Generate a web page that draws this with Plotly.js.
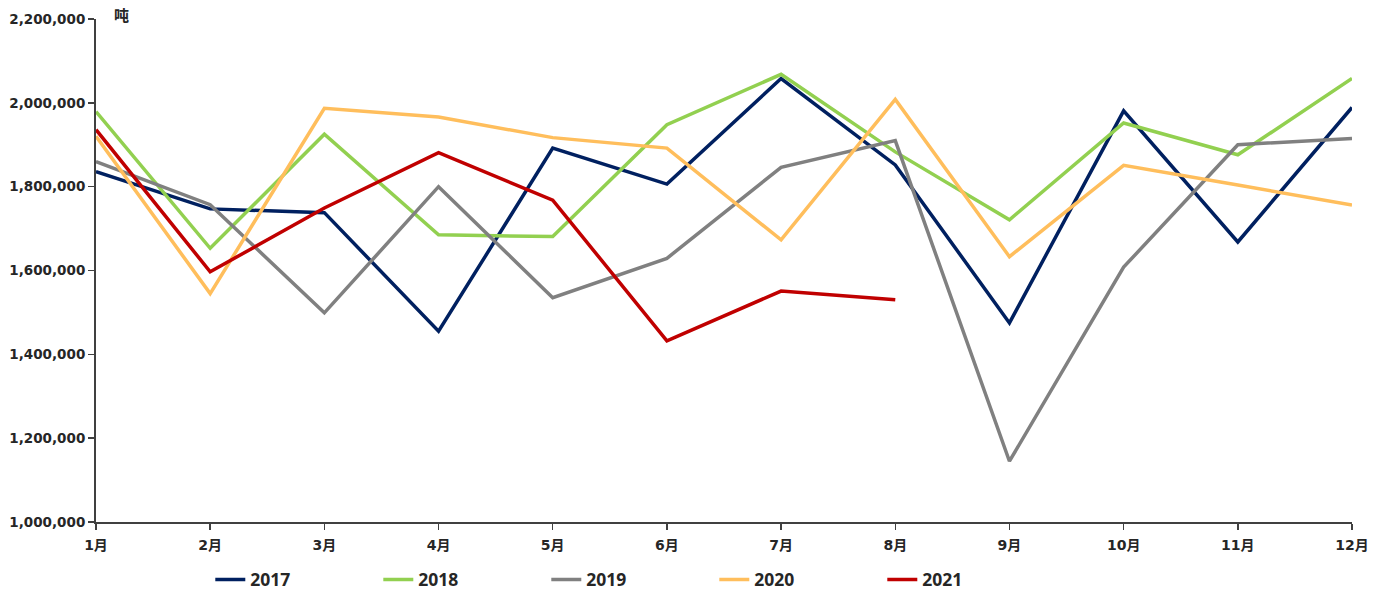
<!DOCTYPE html>
<html>
<head>
<meta charset="utf-8">
<script src="https://cdn.plot.ly/plotly-3.0.1.min.js"></script>
<style>html,body{margin:0;padding:0;background:#fff;}#chart{width:1394px;height:602px;}</style>
</head>
<body>
<div id="chart"></div>
<script>
const months = ["1月","2月","3月","4月","5月","6月","7月","8月","9月","10月","11月","12月"];
const y2017 = [1836000,1747000,1738000,1455000,1892000,1806000,2058000,1852000,1475000,1981000,1668000,1989000];
const y2018 = [1979000,1653000,1925000,1685000,1681000,1948000,2068000,1883000,1721000,1952000,1876000,2058000];
const y2019 = [1860000,1757000,1499000,1800000,1535000,1629000,1846000,1910000,1145000,1608000,1900000,1915000];
const y2020 = [1920000,1545000,1987000,1966000,1917000,1892000,1673000,2008000,1633000,1851000,1804000,1756000];
const y2021 = [1936000,1597000,1749000,1881000,1768000,1432000,1551000,1530000];
const seriesNames = ["2017","2018","2019","2020","2021"];
const seriesColors = ["#002060","#92D050","#808080","#FFBE5C","#C00000"];
const seriesData = [y2017,y2018,y2019,y2020,y2021];
const yTicks = [1000000,1200000,1400000,1600000,1800000,2000000,2200000];
const yTickText = ["1,000,000","1,200,000","1,400,000","1,600,000","1,800,000","2,000,000","2,200,000"];

const TICKFONT = "'DejaVu Sans','Noto Sans CJK SC',sans-serif";
const LEGFONT = "'Open Sans','Noto Sans CJK SC',sans-serif";
const traces = seriesData.map((d,i)=>({
  type:'scatter', mode:'lines', name:seriesNames[i],
  x: months.slice(0,d.length), y:d,
  line:{color:seriesColors[i], width:3.5},
  hoverinfo:'skip'
}));

const layout = {
  width:1394, height:602,
  margin:{l:96, r:42, t:19, b:80},
  paper_bgcolor:'#fff', plot_bgcolor:'#fff',
  showlegend:true,
  legend:{orientation:'h', x:0.091, xanchor:'left', yref:'container', y:0.067, yanchor:'top',
    font:{family:LEGFONT, size:17.5, color:'#262626', weight:'bold'}, entrywidth:123, traceorder:'normal'},
  xaxis:{type:'category', range:[0,11], showgrid:false, zeroline:false, automargin:false,
    showline:true, linecolor:'#404040', linewidth:2,
    ticks:'outside', ticklen:6, tickwidth:1.5, tickcolor:'#404040', ticklabelstandoff:3,
    tickfont:{family:TICKFONT, size:14, color:'#262626', weight:'bold'}},
  yaxis:{range:[1000000,2200000], showgrid:false, zeroline:false, automargin:false,
    showline:true, linecolor:'#404040', linewidth:2,
    ticks:'outside', ticklen:6, tickwidth:1.5, tickcolor:'#404040',
    tickmode:'array', tickvals:yTicks, ticktext:yTickText,
    tickfont:{family:TICKFONT, size:13.5, color:'#262626', weight:'bold'}},
  annotations:[{text:'吨', xref:'paper', yref:'paper', x:0.013, y:1.008, xanchor:'left', yanchor:'middle',
    showarrow:false, font:{family:LEGFONT, size:15, color:'#262626', weight:'bold'}}]
};
Plotly.newPlot('chart', traces, layout, {displayModeBar:false, staticPlot:true});
</script>
</body>
</html>
